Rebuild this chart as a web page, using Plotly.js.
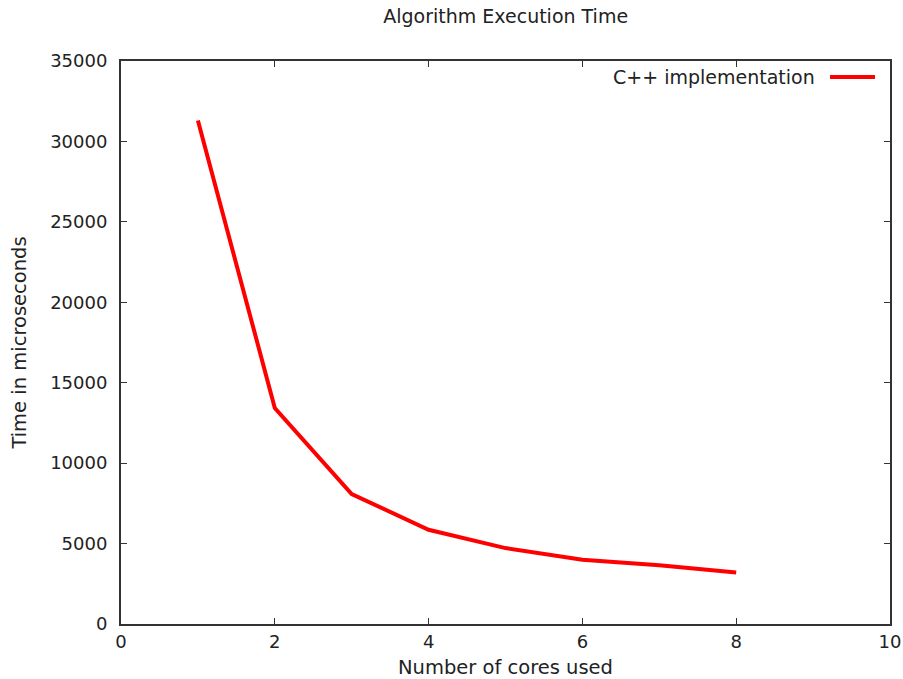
<!DOCTYPE html>
<html>
<head>
<meta charset="utf-8">
<script src="https://cdn.plot.ly/plotly-3.0.1.min.js"></script>
<style>html,body{margin:0;padding:0;background:#fff;}#chart{width:903px;height:679px;}</style>
</head>
<body>
<div id="chart"></div>
<script>
const cores = [1, 2, 3, 4, 5, 6, 7, 8];
const timeMicro = [31300, 13420, 8080, 5860, 4720, 3990, 3650, 3200];
const seriesName = "C++ implementation";
const xTicks = [0, 2, 4, 6, 8, 10];
const yTicks = [0, 5000, 10000, 15000, 20000, 25000, 30000, 35000];

const font = "DejaVu Sans, sans-serif";
const axisColor = "#333333";
const textColor = "#222222";

const trace = {
  x: cores, y: timeMicro, type: "scatter", mode: "lines",
  name: seriesName,
  line: {color: "#ff0000", width: 4},
  showlegend: false
};

const axisCommon = {
  showline: true, linecolor: axisColor, linewidth: 2, mirror: "ticks",
  ticks: "inside", ticklen: 6, tickwidth: 1, tickcolor: axisColor,
  showgrid: false, zeroline: false,
  tickfont: {family: font, size: 18, color: textColor}
};

const layout = {
  width: 903, height: 679,
  margin: {l: 121, r: 13, t: 61, b: 55},
  paper_bgcolor: "#fff", plot_bgcolor: "#fff",
  title: {text: "Algorithm Execution Time", font: {family: font, size: 19, color: textColor}, x: 0.56, xanchor: "center", y: 0.985, yanchor: "top"},
  xaxis: Object.assign({}, axisCommon, {
    range: [0, 10], tickvals: xTicks, ticktext: xTicks.map(String),
    title: {text: "Number of cores used", font: {family: font, size: 19.5, color: textColor}, standoff: 12}
  }),
  yaxis: Object.assign({}, axisCommon, {
    range: [0, 35000], tickvals: yTicks, ticktext: yTicks.map(String),
    ticklabelstandoff: 8,
    title: {text: "Time in microseconds", font: {family: font, size: 19.5, color: textColor}, standoff: 18}
  }),
  annotations: [{
    xref: "paper", yref: "paper", x: 0.905, y: 0.9716, xanchor: "right", yanchor: "middle",
    text: seriesName, showarrow: false, font: {family: font, size: 19, color: textColor}
  }],
  shapes: [{
    type: "line", xref: "paper", yref: "paper", x0: 0.922, x1: 0.9805, y0: 0.9716, y1: 0.9716,
    line: {color: "#ff0000", width: 4}
  }]
};

Plotly.newPlot("chart", [trace], layout, {displayModeBar: false, staticPlot: true});
</script>
</body>
</html>
